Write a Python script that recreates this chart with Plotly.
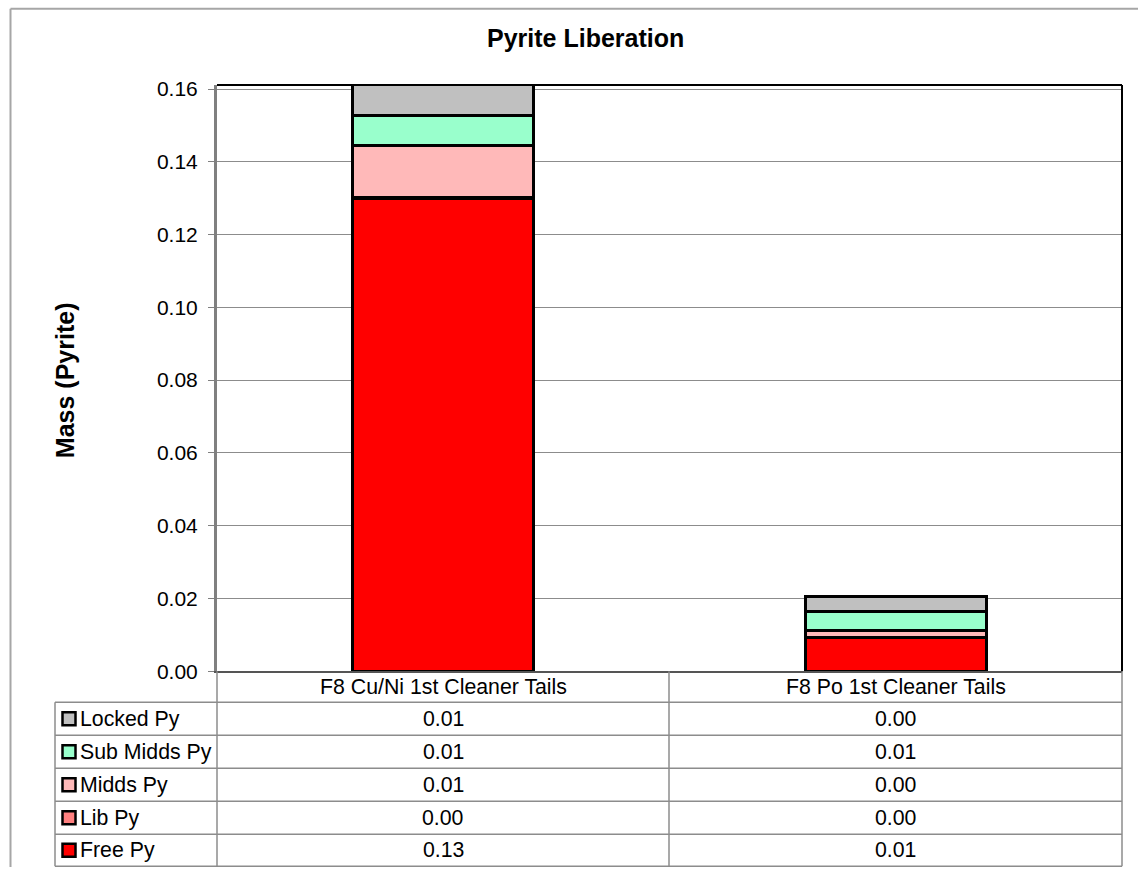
import plotly.graph_objects as go

W, H = 1138, 878

categories = ["F8 Cu/Ni 1st Cleaner Tails", "F8 Po 1st Cleaner Tails"]

# stacked from bottom to top
series_names = ["Free Py", "Lib Py", "Midds Py", "Sub Midds Py", "Locked Py"]
free_py = [0.1300, 0.0093]
lib_py = [0.0001, 0.0001]
midds_py = [0.0145, 0.0018]
sub_midds_py = [0.0080, 0.0051]
locked_py = [0.0088, 0.0042]
series_colors = ["#FF0000", "#FF8080", "#FFB9B9", "#99FFCC", "#C0C0C0"]

series_values = [free_py, lib_py, midds_py, sub_midds_py, locked_py]

FONT = "Arial, Liberation Sans, sans-serif"
GRID = "#8C8C8C"

# the photographed page comes out shifted/squeezed vertically a bit,
# so positions are given in picture pixels and mapped back here
OY, SY = 8, 0.978


def px(x):
    return x / W


def py(y):
    return 1 - (y - OY) / SY / H


# plot area in pixels
L, R, T, B = 217, 1122, 85, 671

fig = go.Figure()
for name, vals, col in zip(series_names, series_values, series_colors):
    fig.add_trace(go.Bar(
        x=categories, y=vals, name=name,
        marker=dict(color=col, line=dict(color="black", width=3)),
    ))

# data table rows, top to bottom
row_tops = [702, 735, 768, 801, 834, 866]
shapes = []
tline = dict(color=GRID, width=1.5)
for y in row_tops:
    shapes.append(dict(type="line", xref="paper", yref="paper",
                       x0=px(55), x1=px(R), y0=py(y), y1=py(y), line=tline))
shapes.append(dict(type="line", xref="paper", yref="paper",
                   x0=px(55), x1=px(55), y0=py(702), y1=py(866), line=tline))
for x in [L, 669, R]:
    shapes.append(dict(type="line", xref="paper", yref="paper",
                       x0=px(x), x1=px(x), y0=py(B), y1=py(866), line=tline))

# plot area border
shapes.append(dict(type="line", xref="paper", yref="paper",
                   x0=px(L), x1=px(R), y0=py(T), y1=py(T),
                   line=dict(color="black", width=2)))
shapes.append(dict(type="line", xref="paper", yref="paper",
                   x0=px(R), x1=px(R), y0=py(T), y1=py(B),
                   line=dict(color="black", width=2)))

# outer chart border
shapes.append(dict(type="line", xref="paper", yref="paper",
                   x0=px(10.5), x1=px(10.5), y0=0, y1=0.999,
                   line=dict(color="#A6A6A6", width=2)))
shapes.append(dict(type="line", xref="paper", yref="paper",
                   x0=px(10.5), x1=1, y0=0.999, y1=0.999,
                   line=dict(color="#A6A6A6", width=2)))

annotations = []
tfont = dict(family=FONT, size=21.3, color="black")

# category header row
for cat in categories:
    annotations.append(dict(x=cat, xref="x", y=py((B + 702) / 2), yref="paper",
                            text=cat, showarrow=False, font=tfont,
                            xanchor="center", yanchor="middle"))

# legend keys, labels and values
rows = list(zip(series_names, series_values, series_colors))[::-1]
for i, (name, vals, col) in enumerate(rows):
    yc = (row_tops[i] + row_tops[i + 1]) / 2
    shapes.append(dict(type="rect", xref="paper", yref="paper",
                       x0=px(62.5), x1=px(75.5), y0=py(yc - 6.5), y1=py(yc + 6.5),
                       fillcolor=col, line=dict(color="black", width=2.5)))
    annotations.append(dict(x=px(78), xref="paper", y=py(yc), yref="paper",
                            text=name, showarrow=False, font=tfont,
                            xanchor="left", yanchor="middle"))
    for cat, v in zip(categories, vals):
        annotations.append(dict(x=cat, xref="x", y=py(yc), yref="paper",
                                text=f"{v:.2f}", showarrow=False, font=tfont,
                                xanchor="center", yanchor="middle"))

# titles
annotations.append(dict(x=px(586), xref="paper", y=py(38), yref="paper",
                        text="<b>Pyrite Liberation</b>", showarrow=False,
                        font=dict(family=FONT, size=25, color="black"),
                        xanchor="center", yanchor="middle"))
annotations.append(dict(x=px(65), xref="paper", y=py(380), yref="paper",
                        text="<b>Mass (Pyrite)</b>", showarrow=False, textangle=-90,
                        font=dict(family=FONT, size=25, color="black"),
                        xanchor="center", yanchor="middle"))

fig.update_layout(
    width=W, height=H,
    margin=dict(l=0, r=0, t=0, b=0),
    paper_bgcolor="white", plot_bgcolor="white",
    barmode="stack", bargap=0.6,
    showlegend=False,
    shapes=shapes, annotations=annotations,
    xaxis=dict(domain=[px(L), px(R)], range=[-0.5, 1.5],
               showticklabels=False, ticks="", showgrid=False,
               showline=True, linecolor="#555555", linewidth=2),
    yaxis=dict(domain=[py(B), py(T)], range=[0, 0.1611],
               dtick=0.02, tickformat=".2f",
               showgrid=True, gridcolor=GRID, gridwidth=1,
               zeroline=False,
               showline=True, linecolor="#808080", linewidth=3,
               ticks="outside", ticklen=6, tickcolor="#808080", tickwidth=1,
               ticklabelstandoff=6,
               tickfont=dict(family=FONT, size=21, color="black")),
)

# drop the default page margin so the figure sits at the window origin
fig.write_html("out.html", config={"displayModeBar": False},
               post_script="document.body.style.margin='0px';")
